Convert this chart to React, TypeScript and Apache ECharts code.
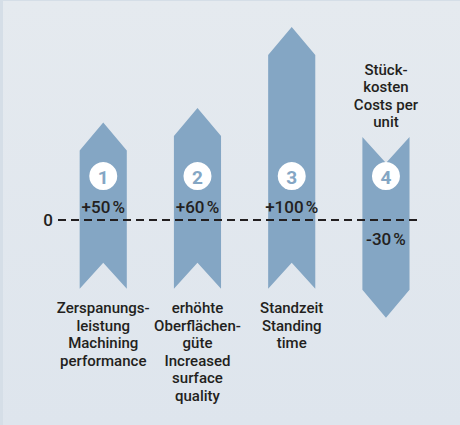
import React, { useEffect, useRef } from "react";
import * as echarts from "echarts";

// Data
const stepNumbers = ["1", "2", "3", "4"];
const changeLabels = ["+50\u202F%", "+60\u202F%", "+100\u202F%", "-30\u202F%"];
// arrow extents in % units: head (tip) and tail (notched end)
const arrowHead = [50.5, 58, 100, -50.5];
const arrowTail = [-35.5, -35.5, -35.5, 43];
const categoryLabels = [
  "Zerspanungs-\nleistung\nMachining\nperformance",
  "erhöhte\nOberflächen-\ngüte\nIncreased\nsurface\nquality",
  "Standzeit\nStanding\ntime",
  "Stück-\nkosten\nCosts per\nunit",
];

const ARROW = "#84a6c4";
const TEXT = "#231f20";
const FONT = "Roboto, 'DejaVu Sans', sans-serif";

export default function App() {
  const ref = useRef<HTMLDivElement>(null);
  useEffect(() => {
    document.body.style.margin = "0";
    if (!ref.current) return;
    const chart = echarts.init(ref.current, undefined, { renderer: "svg" });
    const data = stepNumbers.map((_, i) => [i, arrowHead[i], arrowTail[i]]);
    chart.setOption({
      animation: false,
      backgroundColor: "transparent",
      grid: { left: 58, right: 42, top: 27, bottom: 89 },
      xAxis: { type: "value", min: -0.48, max: 3.34, show: false },
      yAxis: { type: "value", min: -60, max: 100, show: false },
      series: [
        {
          type: "custom",
          clip: false,
          data,
          encode: { x: 0, y: [1, 2] },
          renderItem: (params: any, api: any) => {
            const i = params.dataIndex;
            const [x, y0] = api.coord([api.value(0), 0]);
            const yHead = api.coord([api.value(0), api.value(1)])[1];
            const yTail = api.coord([api.value(0), api.value(2)])[1];
            const w = api.size([1, 0])[0] * 0.5;
            const up = yHead < yTail;
            const dir = up ? 1 : -1;
            const H = 28;
            const N = 26;
            const l = x - w / 2;
            const r = x + w / 2;
            const points = [
              [l, yTail],
              [l, yHead + dir * H],
              [x, yHead],
              [r, yHead + dir * H],
              [r, yTail],
              [x, yTail - dir * N],
            ];
            const circleY = y0 - 44;
            return {
              type: "group",
              children: [
                { type: "polygon", shape: { points }, style: { fill: ARROW } },
                { type: "circle", shape: { cx: x, cy: circleY, r: 14 }, style: { fill: "#ffffff" } },
                {
                  type: "text",
                  x,
                  y: circleY + 1,
                  style: {
                    text: stepNumbers[i],
                    fill: ARROW,
                    font: `bold 19px ${FONT}`,
                    align: "center",
                    verticalAlign: "middle",
                  },
                },
                {
                  type: "text",
                  x,
                  y: up ? y0 - 13 : y0 + 19,
                  style: {
                    text: changeLabels[i],
                    fill: TEXT,
                    font: `500 17px ${FONT}`,
                    align: "center",
                    verticalAlign: "middle",
                  },
                },
                {
                  type: "text",
                  x,
                  y: up ? yTail + 11 : yTail - 6,
                  style: {
                    text: categoryLabels[i],
                    fill: TEXT,
                    font: `500 15px ${FONT}`,
                    lineHeight: 17.5,
                    align: "center",
                    verticalAlign: up ? "top" : "bottom",
                  },
                },
              ],
            };
          },
          markLine: {
            silent: true,
            symbol: "none",
            animation: false,
            data: [{ yAxis: 0 }],
            lineStyle: { color: TEXT, width: 2, type: [8, 5] },
            label: {
              show: true,
              position: "start",
              formatter: "0",
              color: TEXT,
              fontFamily: FONT,
              fontWeight: 500,
              fontSize: 17,
              distance: 5,
            },
          },
        },
      ],
    });
    return () => chart.dispose();
  }, []);
  return (
    <div
      style={{
        width: 460,
        height: 425,
        background: "linear-gradient(#e5eaef, #dee5ed)",
        boxShadow: "inset 3px 1px 0 #d5dee7",
      }}
    >
      <div ref={ref} style={{ width: 460, height: 425 }} />
    </div>
  );
}
